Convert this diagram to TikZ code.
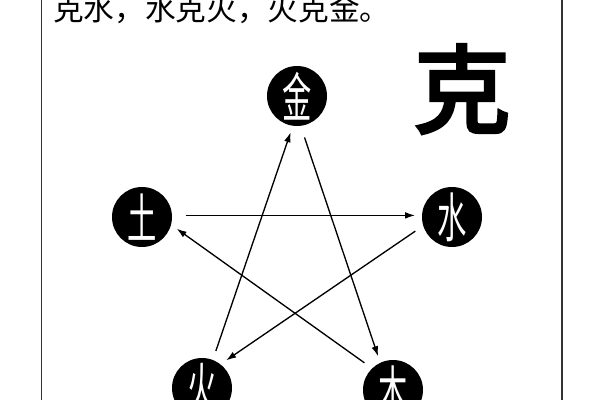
\documentclass[tikz,border=0pt]{standalone}
\usepackage{fontspec}
\usepackage{graphicx}
\usepackage{tikz}
\usetikzlibrary{arrows.meta}
\newfontfamily\cjk{Noto Sans CJK SC}
\newfontfamily\cjkbold[FakeBold=4]{Noto Sans CJK SC}
\newcommand{\elem}[1]{\scalebox{0.55}[1]{\cjk\fontsize{40pt}{40pt}\selectfont #1}}

\begin{document}
\begin{tikzpicture}[x=0.75pt, y=0.75pt,
		wuxing/.style={circle, fill=black, text=white, minimum size=45pt, inner sep=0pt},
		ke/.style={-{Latex[length=7.5pt, width=5pt]}, line width=1pt, shorten <=7pt, shorten >=5pt}]
			\useasboundingbox (0,0) rectangle (600,400);
			\draw [black!80, line width=1.3pt] (41.5,0) -- (41.5,400);
			\draw [black!80, line width=1.3pt] (562,0) -- (562,400);
			\node[anchor=base west, inner sep=0pt] (title) at (53,379)
			{\cjk\fontsize{23pt}{23pt}\selectfont 克水，水克火，火克金。};
			\node (bigke) at (462,311) {\cjkbold\fontsize{72pt}{72pt}\selectfont 克};
			\node[wuxing] (jin) at (297,304) {\elem{金}};
			\node[wuxing] (tu) at (142,183) {\elem{土}};
			\node[wuxing] (shui) at (452,183) {\elem{水}};
			\node[wuxing] (huo) at (202,12) {\elem{火}};
			\node[wuxing] (mu) at (393,10) {\elem{木}};
			\draw [ke, shorten <=10pt] (tu.3) -- (shui.177);
			\draw [ke] (shui.197) -- (huo.52);
			\draw [ke] (huo.69) -- (jin.262);
			\draw [ke, shorten <=9pt] (jin.277) -- (mu.115);
			\draw [ke] (mu.134) -- (tu.345);
		\end{tikzpicture}
\end{document}
